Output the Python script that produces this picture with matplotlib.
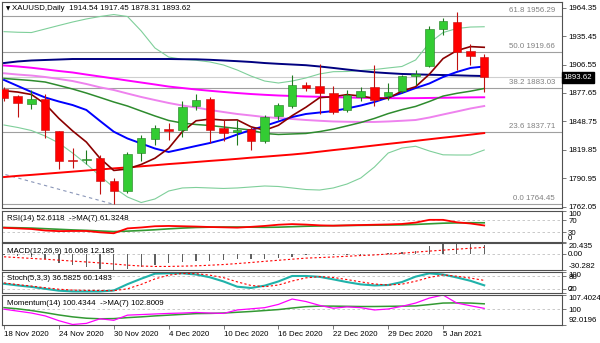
import matplotlib
matplotlib.use("Agg")
import matplotlib.pyplot as plt
import matplotlib.transforms as mtrans

plt.rcParams['font.family'] = ['Liberation Sans', 'DejaVu Sans']
plt.rcParams['font.size'] = 5.7

# ---- data (XAUUSD daily, 18 Nov 2020 - 8 Jan 2021) ----
opens = [1881.7, 1874.2, 1866.8, 1871.8, 1838.6, 1809.8, 1809.5, 1811.2, 1788.5, 1777.6,
         1816.6, 1831.2, 1841.0, 1839.6, 1864.0, 1871.5, 1842.0, 1837.6, 1841.0, 1828.4,
         1854.6, 1864.7, 1886.1, 1884.4, 1877.6, 1860.7, 1873.6, 1883.3, 1874.2, 1879.2,
         1894.5, 1905.4, 1942.7, 1949.8, 1919.9, 1914.54]
highs = [1883.7, 1876.0, 1880.3, 1876.6, 1839.5, 1821.7, 1819.3, 1815.0, 1791.2, 1817.7,
         1835.2, 1844.7, 1847.1, 1869.8, 1876.9, 1874.0, 1850.5, 1850.5, 1843.0, 1855.6,
         1867.5, 1896.2, 1888.4, 1907.4, 1885.0, 1880.3, 1883.7, 1906.4, 1887.8, 1895.5,
         1900.6, 1945.4, 1953.9, 1959.6, 1927.8, 1917.45]
lows = [1870.0, 1853.0, 1861.4, 1831.9, 1800.4, 1801.4, 1805.8, 1775.0, 1764.45, 1776.0,
        1808.1, 1825.1, 1830.2, 1832.9, 1860.7, 1826.8, 1829.1, 1825.1, 1820.0, 1826.6,
        1850.5, 1862.4, 1879.3, 1856.3, 1856.0, 1858.0, 1869.8, 1864.7, 1870.8, 1877.5,
        1886.1, 1903.7, 1936.2, 1901.3, 1906.4, 1878.31]
closes = [1872.5, 1867.5, 1871.5, 1839.6, 1808.1, 1808.8, 1810.8, 1788.5, 1778.3, 1815.7,
          1831.9, 1842.0, 1839.3, 1863.0, 1870.8, 1840.3, 1836.9, 1840.3, 1828.4, 1853.2,
          1865.0, 1886.1, 1882.7, 1877.6, 1858.3, 1875.2, 1879.2, 1870.8, 1878.2, 1894.5,
          1897.2, 1942.7, 1950.4, 1918.9, 1914.8, 1893.62]

sma5 = [1880.0, 1878.6, 1876.1, 1866.5, 1851.8, 1839.1, 1827.8, 1811.2, 1798.9, 1800.4,
        1805.0, 1811.3, 1821.4, 1838.4, 1849.4, 1851.1, 1850.1, 1850.3, 1843.3, 1839.8,
        1844.8, 1854.6, 1863.1, 1872.9, 1873.9, 1876.0, 1874.6, 1872.2, 1872.3, 1879.6,
        1884.0, 1896.7, 1912.6, 1920.7, 1924.8, 1924.1]
ma_blue = [1890.9, 1884.8, 1878.7, 1873.1, 1869.0, 1865.4, 1860.4, 1849.2, 1838.3, 1831.4,
           1826.3, 1821.2, 1817.7, 1820.7, 1823.8, 1826.8, 1830.4, 1835.5, 1840.0, 1844.1,
           1848.7, 1853.2, 1856.3, 1857.8, 1859.3, 1861.9, 1864.9, 1868.5, 1873.1, 1877.6,
           1882.7, 1887.3, 1893.9, 1899.0, 1903.1, 1904.6]
bb_mid = [1892.4, 1891.4, 1890.3, 1888.8, 1885.3, 1881.7, 1877.6, 1873.1, 1868.5, 1864.4,
          1859.3, 1854.3, 1849.7, 1847.1, 1845.6, 1844.6, 1843.1, 1841.5, 1840.0, 1836.5,
          1835.5, 1836.0, 1836.5, 1838.4, 1840.9, 1844.2, 1847.6, 1851.8, 1856.7, 1860.7,
          1864.0, 1869.0, 1874.5, 1877.3, 1879.5, 1882.2]
bb_up = [1940.0, 1939.4, 1939.1, 1942.7, 1946.3, 1949.8, 1952.9, 1955.4, 1957.4, 1955.4,
         1940.7, 1923.4, 1914.2, 1911.9, 1910.9, 1909.2, 1906.1, 1901.0, 1894.9, 1889.8,
         1887.8, 1889.8, 1892.9, 1897.0, 1899.3, 1899.5, 1900.5, 1901.5, 1903.1, 1904.6,
         1911.2, 1928.5, 1939.1, 1943.2, 1944.7, 1945.0]
bb_lo = [1845.1, 1842.6, 1839.5, 1833.9, 1826.8, 1816.6, 1805.5, 1793.3, 1781.6, 1771.9,
         1766.3, 1769.9, 1778.0, 1781.1, 1781.6, 1781.1, 1780.6, 1781.1, 1782.1, 1783.1,
         1782.6, 1781.1, 1779.5, 1779.0, 1781.1, 1785.1, 1791.2, 1802.4, 1816.6, 1821.7,
         1823.5, 1818.7, 1814.8, 1814.6, 1814.6, 1819.7]
ma_navy = [1908.1, 1909.7, 1910.7, 1911.2, 1911.7, 1912.2, 1912.2, 1912.2, 1912.2, 1912.2,
           1912.2, 1912.2, 1912.2, 1912.0, 1911.9, 1911.4, 1910.7, 1910.0, 1909.2, 1908.1,
           1907.3, 1906.6, 1905.9, 1904.6, 1903.1, 1901.5, 1900.0, 1898.7, 1897.8, 1897.0,
           1896.6, 1896.2, 1895.9, 1895.6, 1895.2, 1894.9]
ma_magenta = [1905.6, 1904.6, 1903.3, 1901.7, 1900.0, 1898.5, 1896.4, 1894.4, 1892.4, 1890.3,
              1888.3, 1886.3, 1884.2, 1882.7, 1881.2, 1879.9, 1878.7, 1877.6, 1876.6, 1875.8,
              1875.1, 1874.6, 1874.1, 1873.8, 1873.4, 1873.1, 1872.8, 1872.6, 1872.4, 1872.3,
              1872.4, 1872.6, 1872.8, 1873.0, 1873.2, 1873.3]
ma_violet = [1897.7, 1896.4, 1895.4, 1893.9, 1891.9, 1889.8, 1886.8, 1883.4, 1880.7, 1877.1,
             1873.6, 1870.5, 1867.5, 1864.9, 1862.9, 1860.4, 1858.3, 1856.3, 1854.8, 1853.2,
             1852.2, 1851.2, 1850.2, 1849.4, 1848.7, 1848.4, 1848.2, 1848.2, 1848.7, 1849.4,
             1850.2, 1852.7, 1855.8, 1858.8, 1861.9, 1864.4]
sma200 = [1792.2, 1793.4, 1794.4, 1795.5, 1796.6, 1797.7, 1798.8, 1799.9, 1801.0, 1802.0,
          1803.1, 1804.2, 1805.4, 1806.4, 1807.5, 1808.6, 1809.6, 1810.7, 1811.9, 1812.9,
          1814.0, 1815.1, 1816.4, 1818.0, 1819.6, 1821.1, 1822.7, 1824.3, 1825.9, 1827.4,
          1829.0, 1830.6, 1832.2, 1833.7, 1835.3, 1836.9]

fib_pcts = [0.0, 23.6, 38.2, 50.0, 61.8]
fib_prices = [1764.45, 1837.71, 1883.03, 1919.66, 1956.29]
fib_anchor_bars = [-73, 8]
fib_anchor_prices = [2074.90, 1764.45]
bid = 1893.62
price_ticks = [1964.35, 1935.45, 1906.55, 1877.65, 1848.75, 1819.85, 1790.95, 1762.05]

rsi = [45, 43, 41, 36, 34, 34.5, 34.5, 30, 27, 43, 46, 50, 51, 50, 49, 47.5, 46.5, 45.5,
       48, 51, 55, 57, 55.5, 53, 51.8, 53, 54, 55, 56, 57.5, 62, 71, 71, 63, 59, 52.6118]
rsi_ma = [46, 45, 44, 42, 40, 38, 36.5, 34.5, 32.5, 34, 36, 38.5, 41.5, 44, 46, 47, 47.5,
          47.5, 47, 46.5, 47, 48.5, 50, 51, 52, 52.5, 53, 53.5, 54, 54.5, 56, 58, 60, 61,
          61.5, 61.3248]
macd_hist = [-2.0, -3.5, -5.3, -10.5, -16.5, -21.8, -24.0, -27.8, -30.282, -29.3, -25.5,
             -21.8, -18.0, -15.0, -12.8, -12.8, -11.3, -10.5, -10.5, -9.0, -7.5, -5.3,
             -3.0, -2.3, -3.0, -2.3, -1.5, -0.8, 0.8, 3.8, 6.0, 15.5, 18.5, 20.435, 18.5,
             16.068]
macd_signal = [-5.5, -7.0, -8.5, -10.0, -11.8, -13.5, -15.2, -17.0, -19.0, -21.2, -22.8,
               -23.6, -23.6, -23.0, -22.5, -21.3, -20.0, -18.2, -16.2, -14.0, -12.0, -10.0,
               -8.0, -7.0, -5.8, -4.5, -3.1, -2.0, -0.3, 1.2, 3.3, 5.2, 7.0, 8.8, 10.6,
               12.185]
stoch_k = [44, 36, 29, 20, 11, 7.5, 7.3, 7.3, 12, 42, 68, 92, 94, 93.7, 88, 75, 55, 30, 24,
           35, 55, 81, 81, 77, 65, 52, 41, 36, 38, 52, 78, 93.5, 88, 74, 58, 36.5825]
stoch_d = [48, 40, 33, 25, 18, 14, 12.5, 12, 11, 20, 41, 67, 85, 93, 92, 85, 73, 53, 36, 30,
           38, 57, 72, 78, 74, 64, 53, 43, 38, 42, 56, 74, 86, 80, 71, 60.1483]
momentum = [100.0, 99.0, 98.0, 96.5, 94.0, 92.0196, 92.6, 95.0, 94.2, 96.9, 97.2, 97.5,
            97.8, 98.0, 98.3, 98.0, 97.8, 99.6, 100.2, 100.8, 102.5, 105.3, 104.0, 102.0,
            100.5, 101.2, 100.8, 99.6, 100.1, 101.5, 103.2, 105.8, 107.4024, 103.2, 101.8,
            100.4344]
mom_ma = [100.8, 100.2, 99.3, 98.2, 97.0, 96.0, 95.3, 95.0, 95.1, 95.6, 96.0, 96.5, 96.9,
          97.3, 97.7, 97.8, 98.0, 98.4, 98.8, 99.3, 99.8, 100.6, 101.3, 101.6, 101.6, 101.5,
          101.4, 101.4, 101.5, 101.6, 101.7, 102.4, 103.2, 103.3, 103.2, 102.8009]

date_bars = [0, 4, 8, 12, 16, 20, 24, 28, 32]
date_labels = ['18 Nov 2020', '24 Nov 2020', '30 Nov 2020', '4 Dec 2020', '10 Dec 2020',
               '16 Dec 2020', '22 Dec 2020', '29 Dec 2020', '5 Jan 2021']

# ---- layout ----
W, H = 600, 343
fig = plt.figure(figsize=(W / 100, H / 100), dpi=100)


def panel(top, bottom):
    return fig.add_axes([2 / W, 1 - bottom / H, 560 / W, (bottom - top) / H])


ax = panel(2, 208)
ax_rsi = panel(211, 241.5)
ax_macd = panel(243, 270)
ax_st = panel(272, 293)
ax_mom = panel(295, 324.5)
axes = [ax, ax_rsi, ax_macd, ax_st, ax_mom]

xs = list(range(len(closes)))
for a in axes:
    a.set_xlim(-0.146, 40.67)
    a.yaxis.tick_right()
    a.tick_params(axis='y', direction='out', length=3, width=0.6, pad=1.5,
                  colors='#606060', labelcolor='black', labelsize=5.7)
    a.tick_params(axis='x', length=0)
    a.set_xticks([])
    for s in a.spines.values():
        s.set_color('#505050')
        s.set_linewidth(0.8)

# ---- main price panel ----
ax.set_ylim(1760.73, 1970.15)
ax.set_yticks(price_ticks)
ax.set_yticklabels(['%.2f' % p for p in price_ticks])

bt = mtrans.blended_transform_factory(ax.transAxes, ax.transData)
for pct, p in zip(fib_pcts, fib_prices):
    ax.axhline(p, color='#a0a0a0', lw=0.8, zorder=1)
    ax.annotate('%.1f %.2f' % (pct, p), xy=(0.9875, p), xycoords=bt,
                xytext=(0, 1.5), textcoords='offset points',
                ha='right', va='bottom', color='#808080', fontsize=5.7)
ax.plot(fib_anchor_bars, fib_anchor_prices, color='#8a96b8', lw=0.8,
        linestyle=(0, (3, 3)), zorder=1)
ax.axhline(bid, color='#cfcfcf', lw=0.8, zorder=1)

ax.plot(xs, bb_up, color='#7fcf9a', lw=0.8, zorder=2)
ax.plot(xs, bb_lo, color='#7fcf9a', lw=0.8, zorder=2)
ax.plot(xs, sma200, color='#ff0000', lw=1.4, zorder=2)
ax.plot(xs, ma_violet, color='#ee82ee', lw=1.4, zorder=2)
ax.plot(xs, ma_magenta, color='#ff00ff', lw=1.4, zorder=2)
ax.plot(xs, ma_navy, color='#000080', lw=1.4, zorder=2)
ax.plot(xs, bb_mid, color='#2e8b2e', lw=1.1, zorder=2)
ax.plot(xs, ma_blue, color='#0000ff', lw=1.4, zorder=2)
ax.plot(xs, sma5, color='#8b0000', lw=1.2, zorder=2)

for i in xs:
    o, h, l, c = opens[i], highs[i], lows[i], closes[i]
    if c >= o:
        body, edge = '#33cc33', '#1e7a1e'
    else:
        body, edge = '#ff0000', '#c01010'
    ax.vlines(i, l, h, color=edge, lw=0.8, zorder=3)
    ax.bar(i, max(abs(c - o), 0.9), bottom=min(o, c), width=0.62,
           color=body, edgecolor=edge, lw=0.4, zorder=4)

ax.text(1.003, bid, '1893.62', transform=bt, ha='left', va='center', color='white',
        fontsize=5.7, bbox=dict(boxstyle='square,pad=0.25', fc='black', ec='black'),
        clip_on=False, zorder=10)
ax.text(0.0065, 0.969, '\u25bc', transform=ax.transAxes, fontsize=4, va='center',
        family=['DejaVu Sans'])
ax.text(0.0185, 0.969, 'XAUUSD,Daily  1914.54 1917.45 1878.31 1893.62',
        transform=ax.transAxes, va='center', fontsize=5.7)


def scale_labels(a, vals, texts):
    a.set_yticks(vals)
    a.set_yticklabels(texts)
    labs = a.get_yticklabels()
    labs[0].set_verticalalignment('bottom')
    labs[-1].set_verticalalignment('top')


def level(a, v):
    a.axhline(v, color='#c0c0c0', lw=0.6, linestyle=(0, (3, 3)), zorder=1)


# ---- RSI ----
ax_rsi.set_ylim(0, 100)
level(ax_rsi, 70)
level(ax_rsi, 30)
ax_rsi.plot(xs, rsi_ma, color='#339933', lw=1.2)
ax_rsi.plot(xs, rsi, color='#ff0000', lw=1.3)
scale_labels(ax_rsi, [0, 30, 70, 100], ['0', '30', '70', '100'])
ax_rsi.text(0.0084, 0.76, 'RSI(14) 52.6118  ->MA(7) 61.3248', transform=ax_rsi.transAxes,
            va='center')

# ---- MACD ----
ax_macd.set_ylim(-30.282, 20.435)
level(ax_macd, 0)
ax_macd.bar(xs, macd_hist, width=0.1, color='#606060')
ax_macd.plot(xs, macd_signal, color='#ff0000', lw=0.8, linestyle=(0, (2, 2)))
scale_labels(ax_macd, [-30.282, 0, 20.435], ['-30.282', '0.00', '20.435'])
ax_macd.text(0.0084, 0.68, 'MACD(12,26,9) 16.068 12.185', transform=ax_macd.transAxes,
             va='center')

# ---- Stochastic ----
ax_st.set_ylim(0, 100)
level(ax_st, 80)
level(ax_st, 20)
ax_st.plot(xs, stoch_k, color='#20b2aa', lw=1.5)
ax_st.plot(xs, stoch_d, color='#ff0000', lw=0.8, linestyle=(0, (2, 2)))
scale_labels(ax_st, [0, 20, 80, 100], ['0', '20', '80', '100'])
ax_st.text(0.0084, 0.667, 'Stoch(5,3,3) 36.5825 60.1483', transform=ax_st.transAxes,
           va='center')

# ---- Momentum ----
ax_mom.set_ylim(92.0196, 107.4024)
level(ax_mom, 100)
ax_mom.plot(xs, mom_ma, color='#339933', lw=1.1)
ax_mom.plot(xs, momentum, color='#ff00ff', lw=0.9)
scale_labels(ax_mom, [92.0196, 100, 107.4024], ['92.0196', '100', '107.4024'])
ax_mom.text(0.0084, 0.695, 'Momentum(14) 100.4344  ->MA(7) 102.8009',
            transform=ax_mom.transAxes, va='center')

ax_mom.set_xticks(date_bars)
ax_mom.set_xticklabels(date_labels, ha='left')
ax_mom.tick_params(axis='x', direction='out', length=3, width=0.6, pad=1.5,
                   colors='#606060', labelcolor='black', labelsize=5.7)

fig.savefig('out.png', dpi=100, facecolor='white')
